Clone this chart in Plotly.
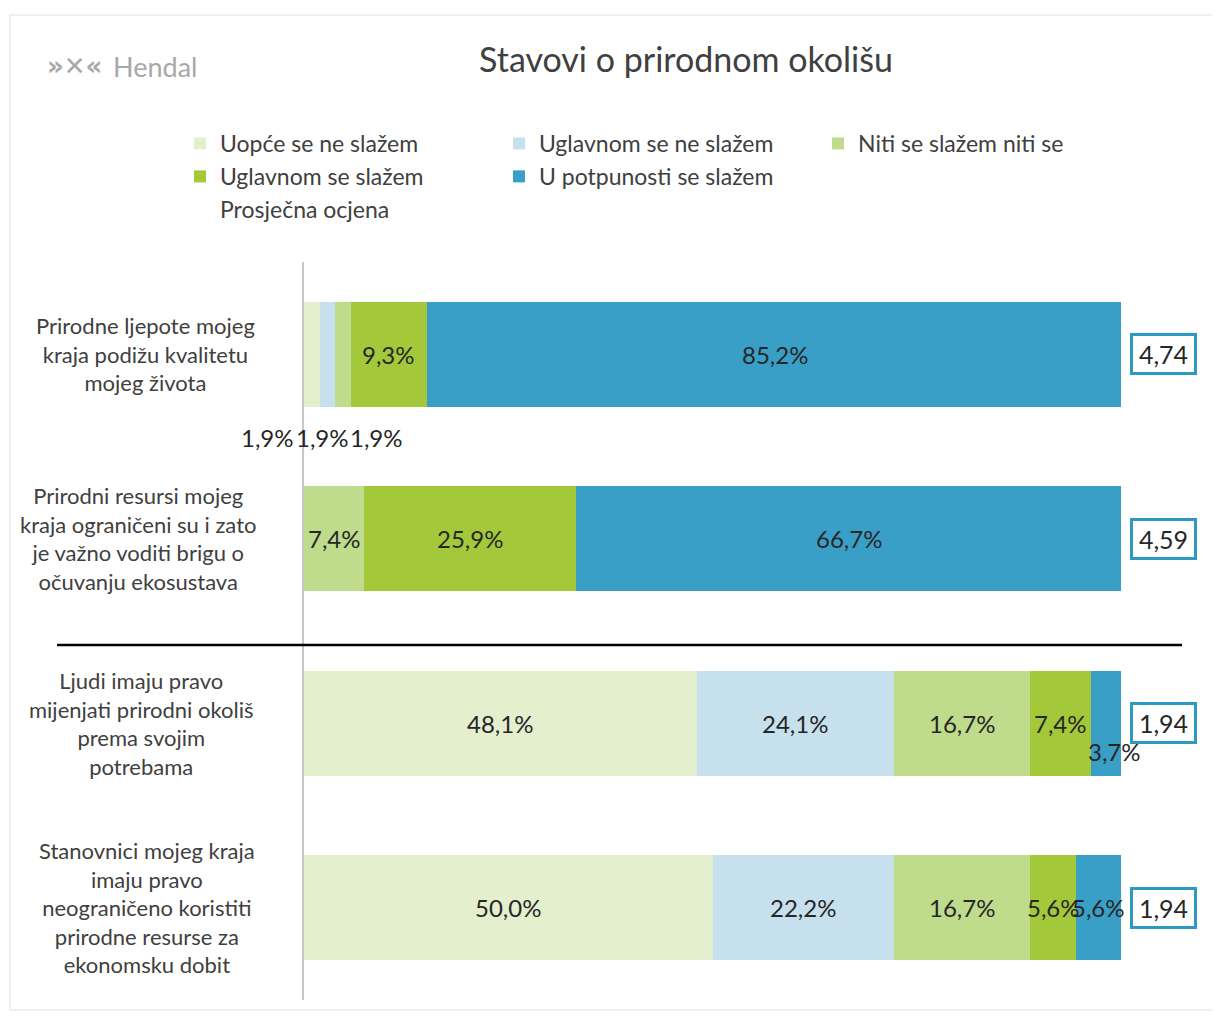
import plotly.graph_objects as go

# data
statements = [
    "Prirodne ljepote mojeg<br>kraja podižu kvalitetu<br>mojeg života",
    "Prirodni resursi mojeg<br>kraja ograničeni su i zato<br>je važno voditi brigu o<br>očuvanju ekosustava",
    "Ljudi imaju pravo<br>mijenjati prirodni okoliš<br>prema svojim<br>potrebama",
    "Stanovnici mojeg kraja<br>imaju pravo<br>neograničeno koristiti<br>prirodne resurse za<br>ekonomsku dobit",
]
answers = ["Uopće se ne slažem", "Uglavnom se ne slažem", "Niti se slažem niti se",
           "Uglavnom se slažem", "U potpunosti se slažem"]
uopce = [1.9, 0.0, 48.1, 50.0]
uglavnom_ne = [1.9, 0.0, 24.1, 22.2]
niti = [1.9, 7.4, 16.7, 16.7]
uglavnom_da = [9.3, 25.9, 7.4, 5.6]
potpuno = [85.2, 66.7, 3.7, 5.6]
avg_score = [4.74, 4.59, 1.94, 1.94]

colors = ["#E4EFCE", "#C6E0EE", "#BEDC8C", "#A3C93A", "#3A9FC7"]
series = [uopce, uglavnom_ne, niti, uglavnom_da, potpuno]
rows = list(range(len(statements)))

FONT = "Lato"
TXT = "#262626"
GREY = '#404040'

# the html page puts the figure 8px in from the top-left corner
OFF = 8
W, H = 1220 - OFF, 1016 - OFF
# plot area in screenshot pixels: x 304..1121, y 262..1000
X0, X1, Y0, Y1 = 304, 1121, 262, 1000
L, R, T, B = X0 - OFF, W - (X1 - OFF), Y0 - OFF, H - (Y1 - OFF)


def px_x(p):  # screenshot pixel -> plot paper x
    return (p - X0) / (X1 - X0)


def px_y(p):  # screenshot pixel -> plot paper y
    return (Y1 - p) / (Y1 - Y0)


fig = go.Figure()
for name, vals, col in zip(answers, series, colors):
    fig.add_trace(go.Bar(y=rows, x=vals, name=name, orientation='h',
                         marker=dict(color=col, line=dict(width=0)),
                         hoverinfo='skip', legend='legend'))

# invisible series just to get the "Prosječna ocjena" legend entry
fig.add_trace(go.Scatter(x=[100] * 4, y=rows, mode='markers', name="Prosječna ocjena",
                         marker=dict(color='rgba(0,0,0,0)', size=1),
                         hoverinfo='skip', legend='legend2'))

# segment labels
# manual nudges, like in the original where a few labels were dragged around
nudge = {(0, 0): (-44, -83), (0, 1): (-5, -83), (0, 2): (34, -83), (2, 4): (9, -28)}
for r in rows:
    left = 0
    for s, vals in enumerate(series):
        v = vals[r]
        if v > 0:
            dx, dy = nudge.get((r, s), (0, 0))
            fig.add_annotation(x=left + v / 2, y=r, xref='x', yref='y',
                               text=f"{v:.1f}".replace('.', ',') + '%',
                               showarrow=False, xshift=dx, yshift=dy, xanchor='center',
                               font=dict(family=FONT, size=24, color=TXT))
        left += v

# average score boxes
for r, a in zip(rows, avg_score):
    fig.add_annotation(x=px_x(1163), y=r, xref='paper', yref='y', text=f"{a:.2f}".replace('.', ','),
                       showarrow=False, xanchor='center', bgcolor='white', bordercolor='#2E9AC4',
                       borderwidth=3, borderpad=2, width=57, height=32,
                       font=dict(family=FONT, size=25, color=TXT))

# category labels, centred like in the original
label_px = [145, 138, 141, 147]
for r, (lab, lx) in enumerate(zip(statements, label_px)):
    fig.add_annotation(x=px_x(lx), y=r, xref='paper', yref='y', text=lab, showarrow=False,
                       xanchor='center', align='center', font=dict(family=FONT, size=22, color=GREY))

# separator between the two groups
fig.add_shape(type='line', xref='paper', yref='paper', x0=px_x(57), x1=px_x(1182),
              y0=px_y(645), y1=px_y(645), line=dict(color='black', width=2.5))

# card border
fig.add_shape(type='rect', xref='paper', yref='paper', x0=px_x(10), x1=px_x(1215),
              y0=px_y(1010), y1=px_y(15), line=dict(color='#ececec', width=1.5), layer='below')

# logo
fig.add_annotation(x=px_x(104), y=px_y(66), xref='paper', yref='paper', text="<b>»✕«</b>",
                   xanchor='right', yanchor='middle', showarrow=False,
                   font=dict(family="DejaVu Sans", size=26, color='#a8a8a8'))
fig.add_annotation(x=px_x(111), y=px_y(66), xref='paper', yref='paper', text="Hendal",
                   xanchor='left', yanchor='middle', showarrow=False,
                   font=dict(family=FONT, size=27, color='#a8a8a8'))

fig.update_layout(
    width=W, height=H,
    margin=dict(l=L, r=R, t=T, b=B, autoexpand=False),
    paper_bgcolor='white', plot_bgcolor='white',
    barmode='stack', bargap=0.43,
    title=dict(text="Stavovi o prirodnom okolišu", x=(686 - OFF) / W, xanchor='center',
               y=1 - (60 - OFF) / H, yanchor='middle',
               font=dict(family=FONT, size=34, color=GREY)),
    xaxis=dict(range=[0, 100], showgrid=False, zeroline=False, showticklabels=False,
               fixedrange=True),
    yaxis=dict(range=[3.5, -0.5], showgrid=False, zeroline=False, showticklabels=False,
               showline=True, linecolor='#c8c8c8', linewidth=2, ticks=''),
    legend=dict(orientation='h', xref='paper', yref='paper', x=px_x(180),
                y=px_y(122), xanchor='left', yanchor='top', entrywidth=274,
                traceorder='normal', font=dict(family=FONT, size=23, color=GREY),
                bgcolor='rgba(0,0,0,0)'),
    legend2=dict(orientation='h', xref='paper', yref='paper', x=px_x(180),
                 y=px_y(188), xanchor='left', yanchor='top',
                 font=dict(family=FONT, size=23, color=GREY),
                 bgcolor='rgba(0,0,0,0)'),
    showlegend=True,
)

fig.write_html("out.html")
